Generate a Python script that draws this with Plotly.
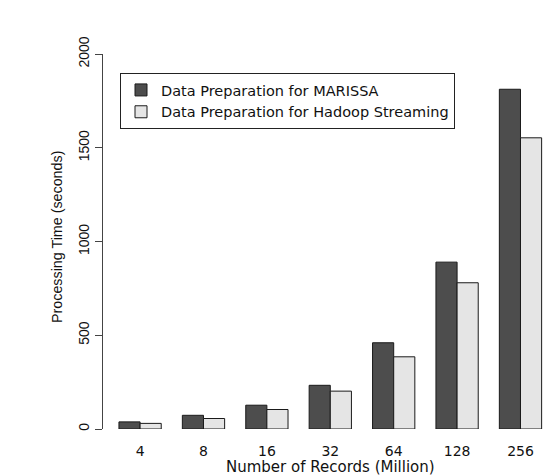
import plotly.graph_objects as go

# Data
records = ["4", "8", "16", "32", "64", "128", "256"]
marissa = [38, 73, 127, 233, 460, 890, 1812]
hadoop = [30, 56, 104, 202, 385, 780, 1553]
series_names = ["Data Preparation for MARISSA", "Data Preparation for Hadoop Streaming"]
y_ticks = [0, 500, 1000, 1500, 2000]

W, H = 552, 476
ML, MR, MT, MB = 103, 0, 54, 47
PW = W - ML - MR
PH = H - MT - MB

fig = go.Figure()
fig.add_trace(go.Bar(
    x=records, y=marissa, name=series_names[0],
    marker=dict(color="#4d4d4d", line=dict(color="#1a1a1a", width=1)),
    cliponaxis=False,
))
fig.add_trace(go.Bar(
    x=records, y=hadoop, name=series_names[1],
    marker=dict(color="#e5e5e5", line=dict(color="#1a1a1a", width=1)),
    cliponaxis=False,
))

fig.update_layout(
    width=W, height=H, autosize=False,
    margin=dict(l=ML, r=MR, t=MT, b=MB, pad=0),
    paper_bgcolor="white", plot_bgcolor="white",
    barmode="group", bargap=0.333, bargroupgap=0,
    font=dict(family="DejaVu Sans", size=14, color="#111"),
    showlegend=True,
    legend=dict(
        x=(120 - ML) / PW, y=(H - MB - 73) / PH,
        xanchor="left", yanchor="top",
        bordercolor="#222", borderwidth=1, bgcolor="white",
        font=dict(family="DejaVu Sans", size=14.5, color="#111"),
        tracegroupgap=0, traceorder="normal",
    ),
    xaxis=dict(
        type="category", categoryorder="array", categoryarray=records,
        range=[-0.585, 6.497],
        showline=False, showgrid=False, zeroline=False,
        ticks="outside", ticklen=9, tickcolor="rgba(0,0,0,0)",
        tickfont=dict(family="DejaVu Sans", size=14, color="#111"),
    ),
    yaxis=dict(
        range=[0, 2000], tickvals=y_ticks, tickangle=-90,
        showline=True, linecolor="#444", linewidth=1,
        ticks="outside", ticklen=7, tickwidth=1, tickcolor="#444",
        showgrid=False, zeroline=False,
        tickfont=dict(family="Liberation Sans", size=14, color="#111"),
    ),
    annotations=[
        dict(text="Number of Records (Million)", xref="paper", yref="paper",
             x=(330 - ML) / PW, y=0, yshift=-(467 - (H - MB)),
             xanchor="center", yanchor="middle", showarrow=False,
             font=dict(family="DejaVu Sans", size=15, color="#111")),
        dict(text="Processing Time (seconds)", xref="paper", yref="paper",
             x=(57 - ML) / PW, y=(H - MB - 237) / PH, textangle=-90,
             xanchor="center", yanchor="middle", showarrow=False,
             font=dict(family="Liberation Sans", size=14.3, color="#111")),
    ],
)

fig.write_html("out.html")
